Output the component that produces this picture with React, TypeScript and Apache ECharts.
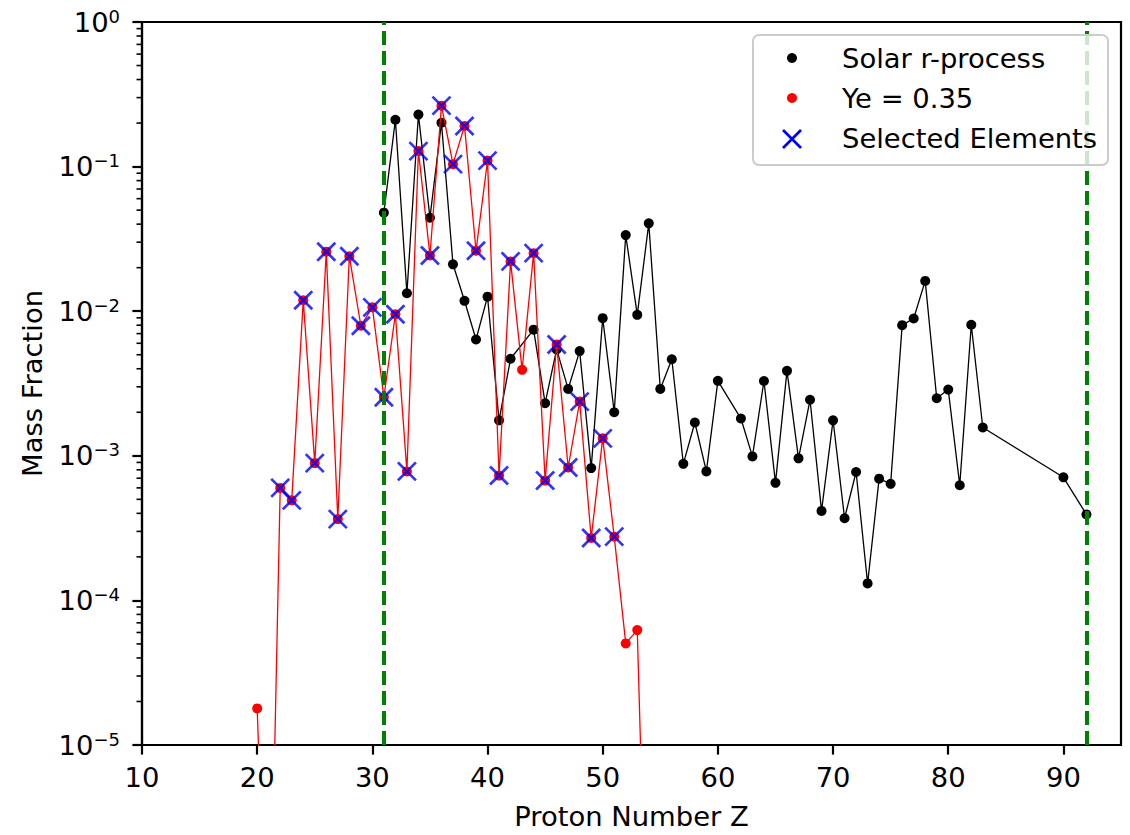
import React, { useEffect, useRef } from 'react';
import * as echarts from 'echarts';

// ---- data ----
const solarZ = [31, 32, 33, 34, 35, 36, 37, 38, 39, 40, 41, 42, 44, 45, 46, 47, 48, 49, 50, 51, 52, 53, 54, 55, 56, 57, 58, 59, 60, 62, 63, 64, 65, 66, 67, 68, 69, 70, 71, 72, 73, 74, 75, 76, 77, 78, 79, 80, 81, 82, 83, 90, 92];
const solarValues = [0.048, 0.211, 0.0133, 0.229, 0.0443, 0.201, 0.0211, 0.0118, 0.00637, 0.0126, 0.00176, 0.00469,
  0.00745, 0.00231, 0.00544, 0.0029, 0.0053, 0.000822, 0.00895, 0.002, 0.0336, 0.00944, 0.0405, 0.0029, 0.00465, 0.00088, 0.0017, 0.00078, 0.0033,
  0.00181, 0.00099, 0.00329, 0.00065, 0.00387, 0.00096, 0.00244, 0.000416, 0.00176, 0.00037, 0.000773, 0.000131, 0.000695, 0.00064, 0.00801, 0.0089, 0.0162, 0.0025, 0.00287, 0.000626, 0.00806, 0.00157,
  0.00071, 0.000393];

const yeZ = [20, 21, 22, 23, 24, 25, 26, 27, 28, 29, 30, 31, 32, 33, 34, 35, 36, 37, 38, 39, 40, 41, 42, 43, 44, 45, 46, 47, 48, 49, 50, 51, 52, 53, 54];
const yeValues = [1.79e-5, 1e-7, 0.0006, 0.000492, 0.0119, 0.00089, 0.0258, 0.000365, 0.024, 0.00793, 0.01063, 0.00254, 0.00953, 0.00078,
  0.128, 0.0243, 0.264, 0.104, 0.191, 0.0262, 0.11, 0.00073, 0.0221, 0.00393, 0.0252, 0.000674, 0.00589, 0.00083, 0.00237, 0.00027, 0.00132, 0.000276,
  5.04e-5, 6.23e-5, 1e-7];

const selectedZ = [22, 23, 24, 25, 26, 27, 28, 29, 30, 31, 32, 33, 34, 35, 36, 37, 38, 39, 40, 41, 42, 44, 45, 46, 47, 48, 49, 50, 51];

const dashedLineZ = [31, 92];

const xTicks = [10, 20, 30, 40, 50, 60, 70, 80, 90];
const xRange = [10, 95];
const yRange = [1e-5, 1];
const yDecades = [-5, -4, -3, -2, -1];
const minorMultipliers = [2, 3, 4, 5, 6, 7, 8, 9];

const legendLabels = ['Solar r-process', 'Ye = 0.35', 'Selected Elements'];
const xTitle = 'Proton Number Z';
const yTitle = 'Mass Fraction';

const FONT = "'DejaVu Sans', sans-serif";
const FS = 27.4;

export default function App() {
  const ref = useRef<HTMLDivElement>(null);

  useEffect(() => {
    document.body.style.margin = '0';
    const chart = echarts.init(ref.current!, null, { renderer: 'svg' });

    // minor tick values of the log axis: k x 10^e
    const minorTickValues: number[] = [];
    yDecades.forEach((e) => minorMultipliers.forEach((k) => minorTickValues.push(k * Math.pow(10, e))));

    const yeMap: Record<number, number> = {};
    yeZ.forEach((z, i) => { yeMap[z] = yeValues[i]; });

    const legendGraphics: any[] = [
      {
        type: 'rect', z: 100,
        shape: { x: 753, y: 35, width: 355, height: 130, r: 6 },
        style: { fill: 'rgba(255,255,255,0.8)', stroke: '#cccccc', lineWidth: 2 },
      },
      { type: 'circle', z: 101, shape: { cx: 792, cy: 58, r: 5 }, style: { fill: '#000' } },
      { type: 'circle', z: 101, shape: { cx: 792, cy: 98, r: 5 }, style: { fill: '#ff0000' } },
      { type: 'line', z: 101, shape: { x1: 783, y1: 130, x2: 801, y2: 148 }, style: { stroke: '#0000ff', lineWidth: 2.7 } },
      { type: 'line', z: 101, shape: { x1: 783, y1: 148, x2: 801, y2: 130 }, style: { stroke: '#0000ff', lineWidth: 2.7 } },
      ...legendLabels.map((t, i) => ({
        type: 'text', z: 101, x: 842, y: [58, 98, 138][i],
        style: { text: t, font: FS + 'px ' + FONT, fill: '#000', verticalAlign: 'middle', align: 'left' },
      })),
    ];

    const option = {
      animation: false,
      backgroundColor: '#ffffff',
      grid: {
        left: 142, top: 22, width: 979, height: 732,
        show: true, borderColor: '#000', borderWidth: 2.2, backgroundColor: 'transparent',
      },
      xAxis: {
        type: 'value',
        min: xRange[0],
        max: xRange[1],
        interval: 10,
        name: xTitle,
        nameLocation: 'middle',
        nameGap: 58,
        nameTextStyle: { fontSize: FS, fontFamily: FONT, color: '#000' },
        axisLine: { show: true, onZero: false, lineStyle: { color: '#000', width: 2.2 } },
        axisTick: { show: true, inside: false, length: 9.6, customValues: xTicks, lineStyle: { color: '#000', width: 2.2 } },
        axisLabel: { fontSize: FS, fontFamily: FONT, color: '#000', margin: 19, customValues: xTicks },
        splitLine: { show: false },
      },
      yAxis: {
        type: 'log',
        logBase: 10,
        min: yRange[0],
        max: yRange[1],
        name: yTitle,
        nameLocation: 'middle',
        nameGap: 96,
        nameTextStyle: { fontSize: FS, fontFamily: FONT, color: '#000' },
        axisLine: { show: true, onZero: false, lineStyle: { color: '#000', width: 2.2 } },
        axisTick: { show: true, inside: false, length: 9.6, lineStyle: { color: '#000', width: 2.2 } },
        axisLabel: {
          margin: 22,
          formatter: (v: number) => {
            const e = Math.round(Math.log10(v));
            const s = e < 0 ? '\u2212' + String(-e) : String(e);
            return '{b|10}{s|' + s + '}';
          },
          rich: {
            b: { fontSize: FS, fontFamily: FONT, color: '#000', lineHeight: 30 },
            s: { fontSize: 18, fontFamily: FONT, color: '#000', lineHeight: 18, verticalAlign: 'top' },
          },
        },
        splitLine: { show: false },
      },
      series: [
        {
          type: 'line',
          data: [],
          z: 1,
          silent: true,
          markLine: {
            silent: true,
            symbol: ['none', 'none'],
            label: { show: false },
            lineStyle: { color: '#008000', width: 4, type: [14, 6] },
            data: dashedLineZ.map((z) => ({ xAxis: z })),
          },
        },
        {
          name: legendLabels[0],
          type: 'line',
          data: solarZ.map((z, i) => [z, solarValues[i]]),
          symbol: 'circle',
          symbolSize: 10,
          itemStyle: { color: '#000' },
          lineStyle: { color: '#000', width: 1.3 },
          clip: true,
          z: 2,
        },
        {
          name: legendLabels[1],
          type: 'line',
          data: yeZ.map((z, i) => [z, yeValues[i]]),
          symbol: 'circle',
          symbolSize: 10,
          itemStyle: { color: '#ff0000' },
          lineStyle: { color: '#ff0000', width: 1.3 },
          clip: true,
          z: 3,
        },
        {
          name: legendLabels[2],
          type: 'scatter',
          data: selectedZ.map((z) => [z, yeMap[z]]),
          symbol: 'path://M0,0L10,10M10,0L0,10',
          symbolSize: 18,
          itemStyle: { color: 'rgba(0,0,0,0)', borderColor: '#0000ff', borderWidth: 2.7 },
          z: 4,
        },
      ],
      graphic: legendGraphics,
    };

    chart.setOption(option as any);

    // minor ticks of the log y axis, positioned through the axis scale
    const minorTickGraphics = minorTickValues.map((v) => {
      const p = chart.convertToPixel({ xAxisIndex: 0, yAxisIndex: 0 }, [xRange[0], v]) as number[];
      return {
        type: 'line', z: 50,
        shape: { x1: p[0] - 5.5, y1: p[1], x2: p[0], y2: p[1] },
        style: { stroke: '#000', lineWidth: 1.6 },
      };
    });
    chart.setOption({ graphic: [...legendGraphics, ...minorTickGraphics] } as any);

    return () => chart.dispose();
  }, []);

  return <div ref={ref} style={{ width: 1130, height: 835 }} />;
}
